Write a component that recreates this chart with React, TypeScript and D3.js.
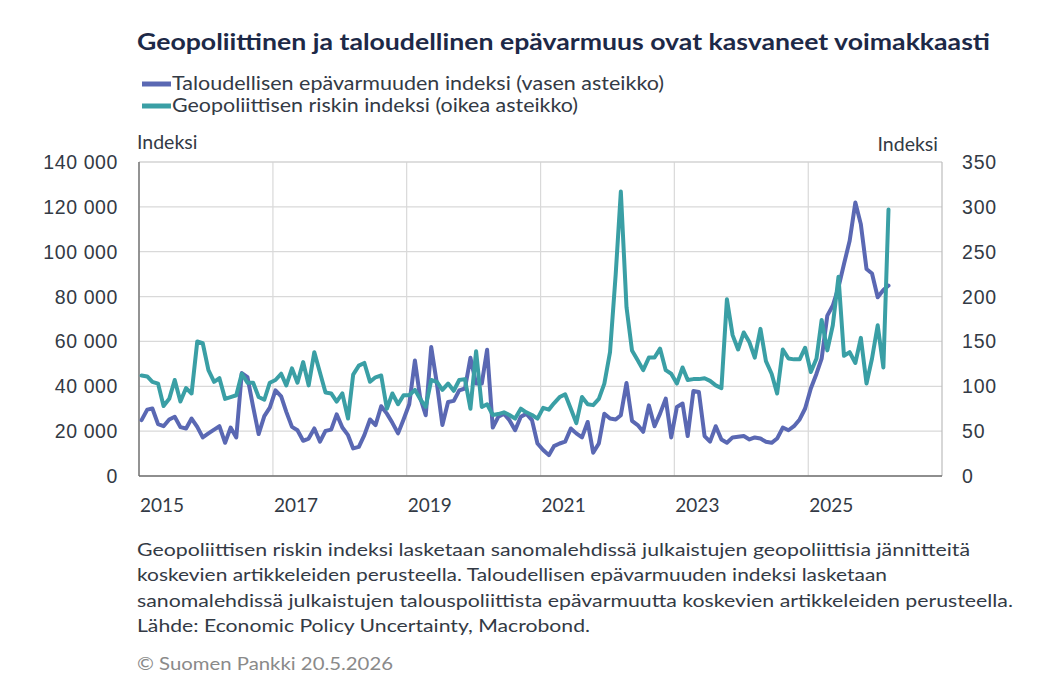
import React from "react";
import * as d3 from "d3";

const titleText = "Geopoliittinen ja taloudellinen epävarmuus ovat kasvaneet voimakkaasti";
const legendLabels = [
  "Taloudellisen epävarmuuden indeksi (vasen asteikko)",
  "Geopoliittisen riskin indeksi (oikea asteikko)",
];
const leftAxisTitle = "Indeksi";
const rightAxisTitle = "Indeksi";
const footnoteLines = [
  "Geopoliittisen riskin indeksi lasketaan sanomalehdissä julkaistujen geopoliittisia jännitteitä",
  "koskevien artikkeleiden perusteella. Taloudellisen epävarmuuden indeksi lasketaan",
  "sanomalehdissä julkaistujen talouspoliittista epävarmuutta koskevien artikkeleiden perusteella.",
  "Lähde: Economic Policy Uncertainty, Macrobond.",
];
const copyrightText = "© Suomen Pankki 20.5.2026";

const startYear = 2015;
const endYear = 2027;
const xTickYears = [2015, 2017, 2019, 2021, 2023, 2025];
const leftTicks = [0, 20000, 40000, 60000, 80000, 100000, 120000, 140000];
const rightTicks = [0, 50, 100, 150, 200, 250, 300, 350];

// Monthly values, Jan 2015 onwards
const economicUncertainty = [
  24900, 29600, 30100, 23100, 22200, 25200, 26400, 21800, 21200, 25600,
  21900, 17200, 19000, 20700, 22200, 14800, 21600, 17200, 45900, 44100,
  30800, 18700, 26700, 30500, 38200, 35500, 28600, 21900, 20400, 15700,
  16700, 21200, 15300, 20100, 20700, 27500, 21600, 18200, 12300, 13000,
  18200, 25200, 22700, 31100, 27800, 23700, 19000, 25200, 32000,
  51500, 35200, 27100, 57500, 41200, 22700, 33000, 33500, 38200, 39000,
  52700, 41200, 41200, 56300, 21600, 26400, 27800, 24900, 20400, 26400,
  27800, 24900, 14500, 11600, 9300, 13300, 14500, 15300, 21200, 19000,
  17200, 24100, 10400, 14500, 27800, 25600, 25200, 27100, 41500, 24600,
  22700, 19700, 31500, 22200, 27800, 34500, 17200, 30800, 32300,
  17800, 37900, 37500, 17800, 15300, 22200, 16300, 14800, 17200, 17500,
  17800, 16300, 17200, 16700, 15300, 14800, 16700, 21600, 20400, 22200,
  25200, 30100, 39000, 45600, 52300, 71500, 76000, 84100, 94500, 104900,
  121900, 112300, 92300, 90300, 79700, 82900, 84900,
];

const geopoliticalRisk = [
  112, 111, 105, 103, 78, 86, 107, 83, 98, 92,
  150, 148, 118, 105, 109, 86, 88, 90, 114, 104,
  104, 88, 85, 104, 107, 114, 101, 120, 104, 127,
  101, 138, 115, 93, 92, 83, 92, 64, 113, 123,
  126, 105, 110, 112, 75, 92, 80, 90,
  90, 96, 86, 77, 107, 105, 96, 103, 95, 107,
  108, 75, 139, 77, 80, 68, 69, 71, 68, 64,
  75, 71, 68, 64, 76, 74, 81, 88, 91, 75,
  59, 88, 80, 79, 86, 103, 138, 225, 317, 188,
  140, 129, 118, 132, 132, 142, 118,
  114, 103, 121, 107, 108, 108, 109, 106, 101, 98,
  197, 157, 141, 160, 149, 132, 164, 128, 114, 92,
  141, 131, 130, 130, 143, 116, 131, 174, 140, 168,
  222, 134, 138, 126, 154, 103, 131, 168, 121, 297,
];

const W = 1038;
const H = 682;
const plot = { left: 139, right: 942, top: 162, bottom: 476 };

const BLUE = "#5a68b3";
const TEAL = "#3a9fa5";
const TEXT = "#333a45";
const sans = "Lato, 'Open Sans', 'DejaVu Sans', sans-serif";
const arial = "'Liberation Sans', Arial, sans-serif";

const fiFormat = d3.formatLocale({
  decimal: ",",
  thousands: "\u00a0",
  grouping: [3],
  currency: ["", "€"],
}).format(",");

export default function App() {
  const x = d3
    .scaleTime()
    .domain([new Date(startYear, 0, 1), new Date(endYear, 0, 1)])
    .range([plot.left, plot.right]);
  const yL = d3.scaleLinear().domain([0, 140000]).range([plot.bottom, plot.top]);
  const yR = d3.scaleLinear().domain([0, 350]).range([plot.bottom, plot.top]);

  const dateOf = (i: number) => new Date(startYear, i, 15);

  const lineL = d3
    .line<number>()
    .x((_, i) => x(dateOf(i)))
    .y((d) => yL(d));
  const lineR = d3
    .line<number>()
    .x((_, i) => x(dateOf(i)))
    .y((d) => yR(d));

  return (
    <div style={{ position: "absolute", left: 0, top: 0 }}>
      <svg width={W} height={H} viewBox={`0 0 ${W} ${H}`} style={{ display: "block", background: "#ffffff" }}>
        <rect x={0} y={0} width={W} height={H} fill="#ffffff" />
        {/* Title */}
        <text x={137} y={50} fontFamily={sans} fontWeight={700} fontSize={23.5} fill="#1d2947"
          textLength={853} lengthAdjust="spacingAndGlyphs">
          {titleText}
        </text>
        {/* Legend */}
        {legendLabels.map((lab, k) => {
          const yy = k === 0 ? 84 : 106;
          const tl = k === 0 ? 492 : 406;
          return (
            <g key={lab}>
              <line x1={142} x2={171} y1={yy} y2={yy} stroke={k === 0 ? BLUE : TEAL} strokeWidth={5} />
              <text x={172} y={yy + 6} fontFamily={sans} fontSize={18.5} fill={TEXT}
                textLength={tl} lengthAdjust="spacingAndGlyphs">
                {lab}
              </text>
            </g>
          );
        })}
        {/* Axis titles */}
        <text x={137} y={149} fontFamily={sans} fontSize={19.5} fill={TEXT}>{leftAxisTitle}</text>
        <text x={938} y={151} fontFamily={sans} fontSize={19.5} fill={TEXT} textAnchor="end">{rightAxisTitle}</text>

        {/* Gridlines */}
        {leftTicks.map((t) => (
          <line key={"h" + t} x1={plot.left} x2={plot.right} y1={yL(t)} y2={yL(t)} stroke="#d9d9d9" strokeWidth={1.2} />
        ))}
        {xTickYears.map((yr) => (
          <line key={"v" + yr} x1={x(new Date(yr, 0, 1))} x2={x(new Date(yr, 0, 1))} y1={plot.top} y2={plot.bottom}
            stroke="#d9d9d9" strokeWidth={1.2} />
        ))}
        {/* Frame */}
        <line x1={plot.left} x2={plot.right} y1={plot.top} y2={plot.top} stroke="#cfcfcf" strokeWidth={1.2} />
        <line x1={plot.right} x2={plot.right} y1={plot.top} y2={plot.bottom} stroke="#bdbdbd" strokeWidth={1.2} />
        <line x1={plot.left} x2={plot.left} y1={plot.top} y2={plot.bottom} stroke="#6f6f6f" strokeWidth={1.4} />
        <line x1={plot.left} x2={plot.right} y1={plot.bottom} y2={plot.bottom} stroke="#6f6f6f" strokeWidth={1.4} />

        {/* Left ticks */}
        {leftTicks.map((t) => (
          <text key={"l" + t} x={118} y={yL(t) + 7} textAnchor="end" fontFamily={arial} fontSize={19.5}
            letterSpacing={0.6} fill={TEXT}>
            {fiFormat(t)}
          </text>
        ))}
        {/* Right ticks */}
        {rightTicks.map((t) => (
          <text key={"r" + t} x={962} y={yR(t) + 7} textAnchor="start" fontFamily={arial} fontSize={19.5}
            letterSpacing={0.8} fill={TEXT}>
            {t}
          </text>
        ))}
        {/* X labels */}
        {xTickYears.map((yr) => (
          <text key={"x" + yr} x={x(new Date(yr, 0, 1)) + 1} y={512} fontFamily={sans} fontSize={19}
            fill={TEXT}>
            {yr}
          </text>
        ))}

        {/* Series */}
        <path d={lineL(economicUncertainty) || ""} fill="none" stroke={BLUE} strokeWidth={4}
          strokeLinejoin="round" strokeLinecap="round" />
        <path d={lineR(geopoliticalRisk) || ""} fill="none" stroke={TEAL} strokeWidth={4}
          strokeLinejoin="round" strokeLinecap="round" />

        {/* Footnote */}
        {footnoteLines.map((ln, k) => {
          const lens = [833, 750, 876, 453];
          return (
            <text key={k} x={137} y={556 + k * 25.3} fontFamily={sans} fontSize={17.5} fill={TEXT}
              textLength={lens[k]} lengthAdjust="spacingAndGlyphs">
              {ln}
            </text>
          );
        })}
        <text x={137} y={670} fontFamily={sans} fontSize={17.5} fill="#8a8a8a" textLength={256}
          lengthAdjust="spacingAndGlyphs">
          {copyrightText}
        </text>
      </svg>
    </div>
  );
}
